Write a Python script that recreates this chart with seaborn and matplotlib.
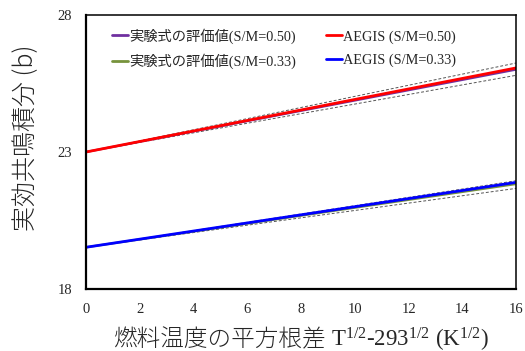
import pandas as pd
import matplotlib
matplotlib.use("Agg")
import matplotlib.pyplot as plt
import seaborn as sns
from matplotlib.offsetbox import TextArea, HPacker, AnchoredOffsetbox

# data
temp = [0, 16]
exp_050 = [23.00, 26.01]
aegis_050 = [23.00, 26.07]
exp_033 = [19.52, 21.83]
aegis_033 = [19.52, 21.89]
upper_050 = [23.00, 26.25]
lower_050 = [23.00, 25.80]
upper_033 = [19.52, 21.95]
lower_033 = [19.52, 21.67]

labels = ["実験式の評価値(S/M=0.50)", "実験式の評価値(S/M=0.33)",
          "AEGIS (S/M=0.50)", "AEGIS (S/M=0.33)"]
colors = ["#7030A0", "#77933C", "#FF0000", "#0000FF"]

sns.set_style("white")
plt.rcParams['font.family'] = ['Liberation Serif', 'Noto Sans CJK JP']
plt.rcParams['mathtext.fontset'] = 'custom'
plt.rcParams['mathtext.rm'] = 'Liberation Serif'
plt.rcParams['mathtext.it'] = 'Liberation Serif'

df = pd.DataFrame({
    "x": temp * 4,
    "y": exp_050 + exp_033 + aegis_050 + aegis_033,
    "series": [l for l in labels for _ in temp],
})
bounds = pd.DataFrame({
    "x": temp * 4,
    "y": upper_050 + lower_050 + upper_033 + lower_033,
    "b": [b for b in ["u50", "l50", "u33", "l33"] for _ in temp],
})

fig = plt.figure(figsize=(5.25, 3.51), dpi=100)
ax = fig.add_axes([0.164, 0.177, 0.819, 0.780])

sns.lineplot(data=bounds, x="x", y="y", units="b", estimator=None, color="#555555",
             lw=0.7, ls=(0, (3, 2)), ax=ax, legend=False)
sns.lineplot(data=df, x="x", y="y", hue="series", hue_order=labels,
             palette=dict(zip(labels, colors)), ax=ax, lw=2)
for ln, w in zip(ax.get_lines()[4:8], [1.6, 1.6, 2.0, 2.0]):
    ln.set_linewidth(w)

ax.set_xlim(0, 16)
ax.set_ylim(18, 28)
ax.set_xticks(range(0, 17, 2))
ax.set_yticks([18, 23, 28])
ax.tick_params(axis="x", direction="in", length=4, pad=10, labelsize=10.5)
ax.tick_params(axis="y", direction="in", length=0, pad=10, labelsize=10.5)
for s in ax.spines.values():
    s.set_color("black")
    s.set_linewidth(1.1)
ax.spines["left"].set_linewidth(1.6)
ax.spines["bottom"].set_linewidth(1.6)

# x label: CJK part + serif part with superscripts
ax.set_xlabel("")
xl1 = TextArea("燃料温度の平方根差",
               textprops=dict(fontsize=17, family=['Noto Sans CJK JP'], fontweight='light'))
xl2 = TextArea(r"T$^{1/2}$-293$^{1/2}$ (K$^{1/2}$)", textprops=dict(fontsize=16.5))
pack = HPacker(children=[xl1, xl2], align="baseline", pad=0, sep=4)
ab = AnchoredOffsetbox(loc="upper center", child=pack, frameon=False,
                       bbox_to_anchor=(0.5, -0.135), bbox_transform=ax.transAxes,
                       borderpad=0, pad=0)
ax.add_artist(ab)

ax.set_ylabel("実効共鳴積分 (b)", fontsize=18, fontweight='light',
              family=['Noto Sans CJK JP'])
ax.yaxis.set_label_coords(-0.11, 0.55)

h, l = ax.get_legend_handles_labels()
ax.legend(h, l, ncol=2, frameon=False, fontsize=10.3, loc="upper left",
          bbox_to_anchor=(0.03, 1.0), handlelength=1.1, handletextpad=0.1,
          columnspacing=2.1, labelspacing=0.7)

fig.savefig("out.png", dpi=100)
